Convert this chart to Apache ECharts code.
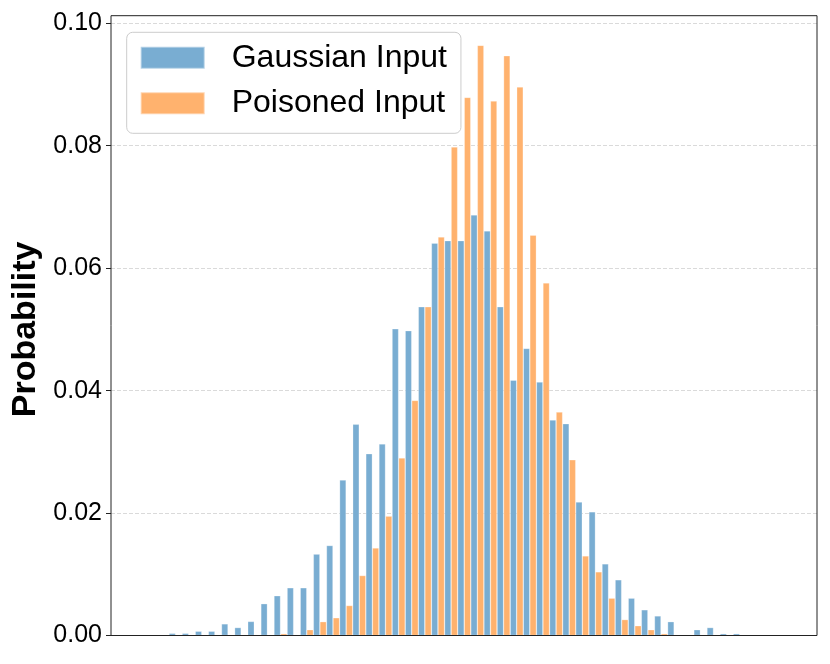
<!DOCTYPE html>
<html>
<head>
<meta charset="utf-8">
<script src="https://cdn.jsdelivr.net/npm/echarts@6/dist/echarts.min.js"></script>
<style>
html,body{margin:0;padding:0;background:#fff;}
#chart{width:830px;height:664px;}
</style>
</head>
<body>
<div id="chart"></div>
<script>
// Histogram bins (no x tick labels in the original)
const bins = [1,2,3,4,5,6,7,8,9,10,11,12,13,14,15,16,17,18,19,20,21,22,23,24,25,26,27,28,29,30,31,32,33,34,35,36,37,38,39,40,41,42,43,44];

const gaussianInput = [
  0.00036, 0.00036, 0.0007, 0.0007, 0.0019, 0.0013, 0.0023, 0.0052, 0.0065, 0.0078,
  0.0078, 0.0133, 0.0147, 0.0254, 0.0345, 0.0297, 0.0313, 0.0501, 0.0498, 0.0537,
  0.0641, 0.0645, 0.0645, 0.0687, 0.0661, 0.0537, 0.0417, 0.0469, 0.0414, 0.0352,
  0.0346, 0.0218, 0.0202, 0.0117, 0.0091, 0.0061, 0.0042, 0.0032, 0.00226, 0,
  0.00095, 0.0013, 0.0003, 0.0003
];

const poisonedInput = [
  0, 0, 0, 0, 0, 0, 0, 0, 0.0003, 0,
  0.00095, 0.00226, 0.0029, 0.0049, 0.0098, 0.0143, 0.0195, 0.0290, 0.0384, 0.0537,
  0.0651, 0.0798, 0.0879, 0.0964, 0.0873, 0.0947, 0.0896, 0.0654, 0.0576, 0.0365,
  0.0287, 0.0130, 0.0104, 0.0061, 0.0026, 0.0016, 0.00095, 0.0003, 0, 0,
  0, 0, 0, 0
];

const yTicks = [0, 0.02, 0.04, 0.06, 0.08, 0.10];

const FONT = '"Liberation Sans", Arial, Helvetica, sans-serif';
const chart = echarts.init(document.getElementById('chart'));

chart.setOption({
  backgroundColor: '#ffffff',
  animation: false,
  grid: [
    // frame
    { left: 111, right: 13, top: 15.7, bottom: 28.5, show: true, borderColor: '#222', borderWidth: 1, backgroundColor: 'transparent', z: 5 },
    // y axis + grid lines
    { left: 111, right: 13, top: 23.3, bottom: 28.5 },
    // bars
    { left: 169, right: 83.7, top: 23.3, bottom: 28.5 }
  ],
  legend: {
    data: ['Gaussian Input', 'Poisoned Input'],
    orient: 'vertical',
    left: 126.7,
    top: 32.3,
    icon: 'rect',
    itemWidth: 64,
    itemHeight: 22,
    itemGap: 13.5,
    padding: [9.5, 14, 14, 13],
    backgroundColor: 'rgba(255,255,255,0.8)',
    borderColor: '#cccccc',
    borderWidth: 1,
    borderRadius: 6,
    textStyle: {
      fontFamily: FONT,
      fontSize: 32,
      color: '#000',
      lineHeight: 32,
      padding: [0, 0, 0, 22]
    },
    z: 10
  },
  xAxis: [
    { gridIndex: 0, type: 'value', show: false, min: 0, max: 1 },
    { gridIndex: 1, type: 'value', show: false, min: 0, max: 1 },
    {
      gridIndex: 2, type: 'category', data: bins, show: false,
      boundaryGap: true
    }
  ],
  yAxis: [
    { gridIndex: 0, type: 'value', show: false, min: 0, max: 1 },
    {
      gridIndex: 1, type: 'value', min: 0, max: 0.10, interval: 0.02,
      name: 'Probability',
      nameLocation: 'middle',
      nameGap: 64,
      nameTextStyle: { fontFamily: FONT, fontSize: 34, fontWeight: 'bold', color: '#000' },
      axisLine: { show: false },
      axisTick: { show: true, length: 5, lineStyle: { color: '#222', width: 1 } },
      axisLabel: {
        fontFamily: FONT, fontSize: 25, color: '#000', margin: 9,
        formatter: function (v) {
          const t = yTicks.find(function (x) { return Math.abs(x - v) < 1e-9; });
          return t === undefined ? '' : t.toFixed(2);
        }
      },
      splitLine: { show: true, lineStyle: { color: '#d0d0d0', type: [4, 2], width: 0.8 } }
    },
    { gridIndex: 2, type: 'value', min: 0, max: 0.10, show: false, splitLine: { show: false } }
  ],
  series: [
    {
      name: 'Gaussian Input',
      type: 'bar',
      xAxisIndex: 2, yAxisIndex: 2,
      data: gaussianInput,
      barGap: '0%',
      barCategoryGap: '0%',
      itemStyle: { color: '#79add2', borderColor: 'rgba(255,255,255,0.45)', borderWidth: 0.6 },
      z: 2
    },
    {
      name: 'Poisoned Input',
      type: 'bar',
      xAxisIndex: 2, yAxisIndex: 2,
      data: poisonedInput,
      barGap: '0%',
      barCategoryGap: '0%',
      itemStyle: { color: '#ffb26e', borderColor: 'rgba(255,255,255,0.45)', borderWidth: 0.6 },
      z: 2
    }
  ]
});
</script>
</body>
</html>
